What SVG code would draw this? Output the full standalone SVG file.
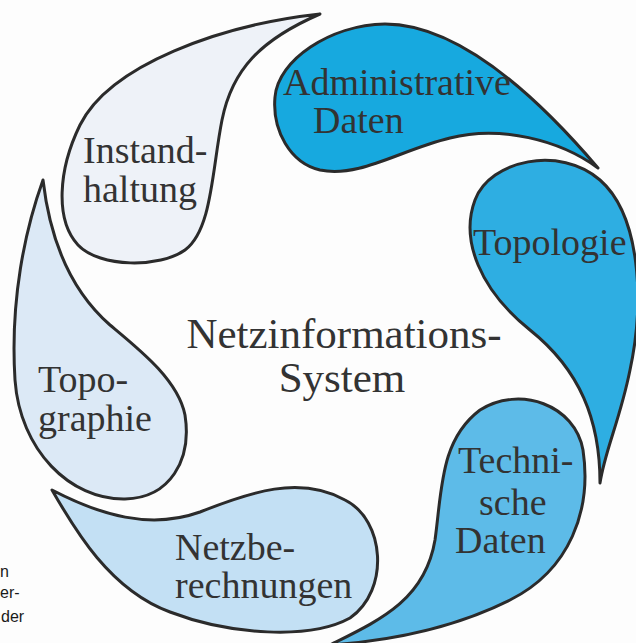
<svg xmlns="http://www.w3.org/2000/svg" width="636" height="643" viewBox="0 0 636 643">
<style>
.drop{stroke:#2b2b2b;stroke-width:3;stroke-linejoin:round}
.lbl{font-family:"Liberation Serif","Times New Roman",serif;font-size:38px;fill:#333}
.ctr{font-family:"Liberation Serif","Times New Roman",serif;font-size:43px;fill:#333;text-anchor:middle}
.side{font-family:"Liberation Sans",Arial,sans-serif;font-size:16px;fill:#1a1a1a}
</style>
<rect width="636" height="643" fill="#fdfdfd"/>
<g id="instandhaltung">
<path class="drop" fill="#eef2f8" d="M320,14 C260,40 232,70 222,120 C212,170 212,230 185,250 C160,268 100,268 78,245 C55,220 58,170 80,125 C110,65 220,25 320,14 Z"/>
<text class="lbl" x="83" y="163">Instand-</text>
<text class="lbl" x="83" y="202">haltung</text>
</g>
<g id="topographie">
<path class="drop" fill="#dce9f6" d="M43,180 C25,230 10,300 15,380 C20,450 70,500 125,499 C170,498 192,460 185,415 C178,380 140,350 110,325 C70,290 50,240 43,180 Z"/>
<text class="lbl" x="38" y="392">Topo-</text>
<text class="lbl" x="38" y="431">graphie</text>
</g>
<g id="netzberechnungen">
<path class="drop" fill="#c3e0f4" d="M52,490 C100,515 150,530 200,512 C250,492 300,475 345,500 C385,520 390,590 350,618 C310,640 230,635 170,612 C110,590 75,530 52,490 Z"/>
<text class="lbl" x="175" y="560">Netzbe-</text>
<text class="lbl" x="175" y="598">rechnungen</text>
</g>
<g id="technische-daten">
<path class="drop" fill="#5dbbe8" d="M330,645 C380,620 425,600 435,540 C442,490 440,440 480,410 C520,385 575,405 583,450 C592,510 570,570 510,600 C460,625 400,640 330,645 Z"/>
<text class="lbl" x="458" y="473">Techni-</text>
<text class="lbl" x="479" y="515">sche</text>
<text class="lbl" x="455" y="553">Daten</text>
</g>
<g id="topologie">
<path class="drop" fill="#2eaee2" d="M600,483 C600,420 580,370 530,330 C480,290 460,240 475,200 C490,160 560,145 600,180 C640,215 645,300 630,370 C620,420 605,450 600,483 Z"/>
<text class="lbl" x="473" y="255">Topologie</text>
</g>
<g id="administrative-daten">
<path class="drop" fill="#17a9df" d="M275,97 C278,60 330,25 385,24 C460,24 540,100 598,168 C560,140 500,125 450,138 C400,150 360,178 320,170 C290,163 272,130 275,97 Z"/>
<text class="lbl" x="283" y="95">Administrative</text>
<text class="lbl" x="313" y="133">Daten</text>
</g>
<g id="center">
<text class="ctr" x="344" y="348">Netzinformations-</text>
<text class="ctr" x="342" y="392">System</text>
</g>
<g id="connectors"></g>
<g id="margin-text">
<text class="side" x="0" y="577">n</text>
<text class="side" x="0" y="598">er-</text>
<text class="side" x="1" y="622">der</text>
</g>
</svg>
